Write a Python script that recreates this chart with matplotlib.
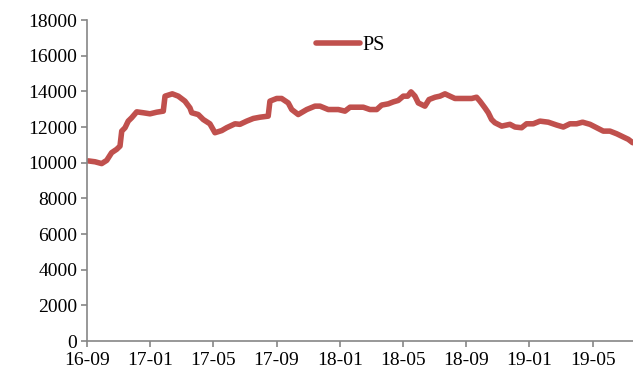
import matplotlib
matplotlib.use("Agg")
import matplotlib.pyplot as plt

# x = months since 2016-09, y = PS value
months = [0.08, 0.51, 0.93, 1.25, 1.56, 1.88, 2.09, 2.20, 2.41, 2.61, 2.83, 3.15,
          3.56, 3.99, 4.41, 4.83, 4.94, 5.40, 5.78, 6.20, 6.52, 6.63, 7.04, 7.36,
          7.78, 8.10, 8.53, 8.84, 9.37, 9.68, 10.11, 10.53, 10.95, 11.47, 11.58,
          12.01, 12.32, 12.74, 12.96, 13.37, 13.91, 14.43, 14.75, 15.27, 15.91,
          16.33, 16.65, 17.17, 17.49, 17.91, 18.34, 18.65, 19.07, 19.39, 19.70,
          20.02, 20.30, 20.51, 20.76, 20.97, 21.39, 21.65, 22.03, 22.34, 22.66,
          22.97, 23.29, 23.92, 24.35, 24.66, 24.87, 25.19, 25.40, 25.61, 25.82,
          26.25, 26.77, 27.09, 27.51, 27.82, 28.25, 28.67, 29.20, 29.73, 30.15,
          30.57, 30.99, 31.37, 31.84, 32.26, 32.68, 33.10, 33.53, 33.95, 34.26,
          34.54]
ps = [10100, 10050, 9950, 10130, 10560, 10750, 10930, 11770, 11960, 12330, 12520,
      12850, 12800, 12740, 12830, 12890, 13730, 13860, 13730, 13450, 13070, 12800,
      12700, 12420, 12180, 11680, 11800, 11960, 12180, 12150, 12330, 12480, 12550,
      12610, 13450, 13600, 13600, 13350, 12980, 12700, 12980, 13170, 13170, 12980,
      12980, 12890, 13110, 13110, 13110, 12980, 12980, 13230, 13300, 13410, 13490,
      13730, 13730, 13970, 13730, 13350, 13170, 13540, 13670, 13730, 13860, 13730,
      13600, 13600, 13600, 13670, 13450, 13070, 12800, 12420, 12240, 12050, 12150,
      12000, 11960, 12180, 12180, 12330, 12270, 12110, 12000, 12180, 12180, 12270,
      12150, 11960, 11770, 11770, 11620, 11440, 11310, 11120]

tick_pos = [0, 4, 8, 12, 16, 20, 24, 28, 32]
tick_labels = ["16-09", "17-01", "17-05", "17-09", "18-01", "18-05", "18-09", "19-01", "19-05"]

plt.rcParams['font.family'] = ['Liberation Serif', 'DejaVu Serif']

fig = plt.figure(figsize=(6.33, 3.74), dpi=100)
ax = fig.add_axes([0.1374, 0.0882, 0.8626, 0.8583])

ax.plot(months, ps, color='#C0504D', lw=4, solid_joinstyle='round',
        solid_capstyle='round', label='PS')

ax.set_xlim(0, 34.56)
ax.set_ylim(0, 18000)
ax.set_yticks(range(0, 18001, 2000))
ax.set_xticks(tick_pos)
ax.set_xticklabels(tick_labels)

for s in ['top', 'right']:
    ax.spines[s].set_visible(False)
for s in ['left', 'bottom']:
    ax.spines[s].set_color('#868686')
    ax.spines[s].set_linewidth(1.2)
ax.tick_params(direction='out', length=4, width=1.2, color='#868686',
               labelsize=14, pad=3)
ax.tick_params(axis='x', pad=4)

ax.legend(loc='center left', bbox_to_anchor=(0.419, 0.922), frameon=False,
          fontsize=14.5, borderaxespad=0, borderpad=0, handlelength=2.2,
          handletextpad=0.1)

fig.savefig('out.png', dpi=100)
